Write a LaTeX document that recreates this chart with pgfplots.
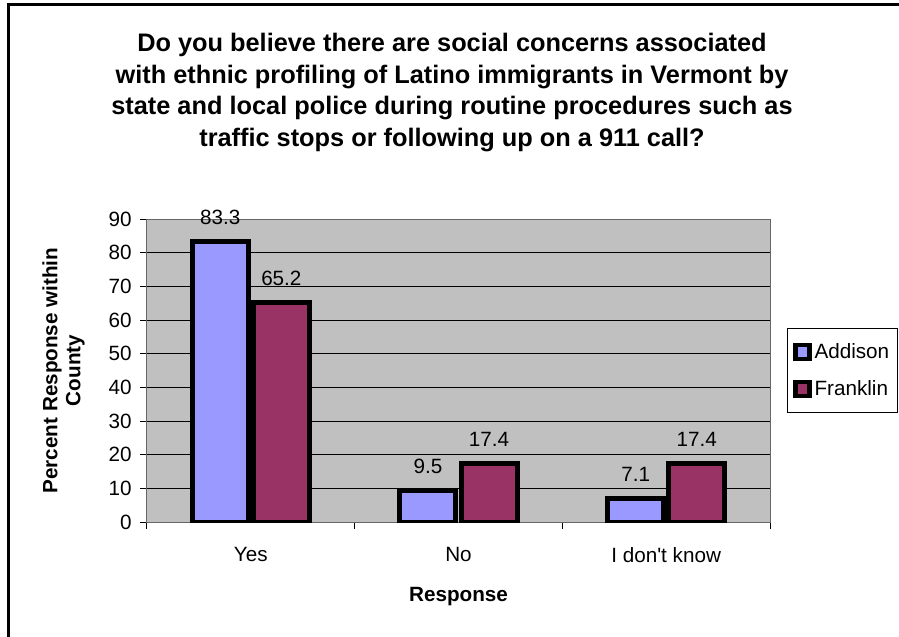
\documentclass[border=0pt]{standalone}
\usepackage{pgfplots}
\pgfplotsset{compat=1.18}
\usepackage{fontspec}
\setmainfont{Liberation Sans}
\definecolor{addison}{HTML}{9999FF}
\definecolor{franklin}{HTML}{993366}
\definecolor{plotbg}{HTML}{C0C0C0}
\begin{document}
\begin{tikzpicture}
\useasboundingbox (-110.25pt,-85.5pt) rectangle (564pt,391.5pt);
\draw[line width=2.25pt] (-103.5pt,-86pt) -- (-103.5pt,387.75pt) -- (565pt,387.75pt);
\begin{axis}[
  scale only axis,
  width=467.25pt, height=227.25pt,
  xmin=-0.5, xmax=2.5, ymin=0, ymax=90,
  axis background/.style={fill=plotbg},
  xtick={0,1,2},
  xticklabels={Yes,No,I don\textquotesingle t know},
  minor xtick={-0.5,0.5,1.5,2.5},
  major x tick style={draw=none},
  minor x tick style={black, line width=0.75pt},
  minor tick length=5pt,
  ytick={0,10,...,90},
  ymajorgrids,
  major grid style={black, line width=0.75pt},
  major tick length=5pt,
  tick align=outside,
  tick pos=left,
  y tick style={black, line width=0.75pt},
  axis line style={draw=gray!80!black, line width=0.75pt},
  /pgf/number format/assume math mode=true,
  tick label style={font=\fontsize{15.5}{18}\selectfont},
  xticklabel style={yshift=-10.5pt},
  yticklabel style={xshift=-3pt},
  xlabel={Response},
  xlabel style={font=\bfseries\fontsize{15.5}{18}\selectfont, at={(axis description cs:0.5,-0.2475)}, anchor=center},
  ylabel={Percent Response within\\County},
  ylabel style={font=\bfseries\fontsize{15.5}{17.25}\selectfont, align=center, at={(axis description cs:-0.134,0.5)}, anchor=center},
  ybar,
  bar width=42pt,
  nodes near coords={\pgfmathprintnumber[fixed,precision=1]{\pgfplotspointmeta}},
  every node near coord/.append style={font=\fontsize{15.5}{18}\selectfont, anchor=south, inner sep=0pt, yshift=10.5pt, black},
  legend style={at={(1.0273,0.5)}, anchor=west, draw=black, line width=0.75pt, font=\fontsize{15.5}{18}\selectfont, row sep=11pt, inner xsep=4pt, inner ysep=9pt},
  legend cell align=left,
]
\addplot[bar shift=-22.9pt, fill=addison, draw=black, line width=3.75pt,
  legend image code/.code={\fill[black] (0pt,-4.9pt) rectangle (10.5pt,4.9pt); \fill[addison] (3.5pt,-1.75pt) rectangle (7pt,1.75pt);}]
  coordinates {(0,83.3) (1,9.5) (2,7.1)};
\addlegendentry{Addison}
\addplot[bar shift=22.9pt, fill=franklin, draw=black, line width=3.75pt,
  legend image code/.code={\fill[black] (0pt,-4.9pt) rectangle (10.5pt,4.9pt); \fill[franklin] (3.5pt,-1.75pt) rectangle (7pt,1.75pt);}]
  coordinates {(0,65.2) (1,17.4) (2,17.4)};
\addlegendentry{Franklin}
\end{axis}
\node[align=center, font=\bfseries\fontsize{19}{23.6}\selectfont] at (228.75pt,322pt)
 {Do you believe there are social concerns associated\\with ethnic profiling of Latino immigrants in Vermont by\\state and local police during routine procedures such as\\traffic stops or following up on a 911 call?};
\end{tikzpicture}
\end{document}
